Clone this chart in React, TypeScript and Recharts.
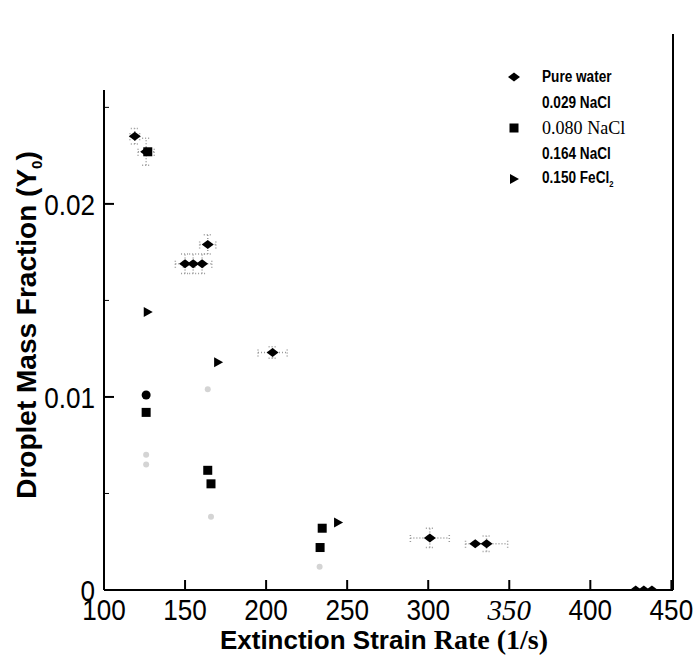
import React from 'react';
import { ScatterChart, Scatter, XAxis, YAxis, ErrorBar, ReferenceLine } from 'recharts';

const xTicks = [100, 150, 200, 250, 300, 350, 400, 450];
const yTicks = [0, 0.005, 0.01, 0.015, 0.02, 0.025];
const yMajor = [0, 0.01, 0.02];
const yTickLabels = ['0', '0.01', '0.02'];

const seriesNames = ['Pure water', '0.029 NaCl', '0.080 NaCl', '0.164 NaCl', '0.150 FeCl'];

// pure water (diamonds), with the dotted uncertainty boxes
const pureWaterX = [119, 126, 150, 155, 160.5, 164, 204, 301, 329, 336, 428, 433, 438];
const pureWaterY = [0.0235, 0.0227, 0.0169, 0.0169, 0.0169, 0.0179, 0.0123, 0.0027, 0.0024, 0.0024, 0, 0, 0];
const pureWaterErrX = [3, 5, 6, 6, 6, 5, 9, 12, 0, 13, 0, 0, 0];
const pureWaterErrY = [0.0004, 0.0007, 0.0005, 0.0005, 0.0005, 0.0005, 0.0003, 0.0005, 0, 0.0004, 0, 0, 0];

const naCl029X = [126];
const naCl029Y = [0.0101];

const naCl080X = [127, 126, 164, 166, 234.6, 233.3];
const naCl080Y = [0.0227, 0.0092, 0.0062, 0.0055, 0.0032, 0.0022];

const naCl164X = [126, 126, 164, 166, 233];
const naCl164Y = [0.007, 0.0065, 0.0104, 0.0038, 0.0012];

const feCl2X = [127, 170.4, 244.4];
const feCl2Y = [0.0144, 0.0118, 0.0035];

const zip = (xs: number[], ys: number[], ex?: number[], ey?: number[]) =>
  xs.map((x, i) => ({ x, y: ys[i], ex: ex ? ex[i] : 0, ey: ey ? ey[i] : 0 }));

const pureWater = zip(pureWaterX, pureWaterY, pureWaterErrX, pureWaterErrY);
const naCl029 = zip(naCl029X, naCl029Y);
const naCl080 = zip(naCl080X, naCl080Y);
const naCl164 = zip(naCl164X, naCl164Y);
const feCl2 = zip(feCl2X, feCl2Y);

const sansFont = '"Liberation Sans", Arial, sans-serif';
const serifFont = '"Liberation Serif", serif';

const Diamond = (props: any) => {
  const { cx, cy } = props;
  return <polygon points={`${cx - 6},${cy} ${cx},${cy - 4.5} ${cx + 6},${cy} ${cx},${cy + 4.5}`} fill="#000" />;
};
const Dot = (props: any) => <circle cx={props.cx} cy={props.cy} r={4.5} fill="#000" />;
const Square = (props: any) => (
  <rect x={props.cx - 4.5} y={props.cy - 4.5} width={9} height={9} fill="#000" />
);
const FaintDot = (props: any) => <circle cx={props.cx} cy={props.cy} r={3} fill="#d4d4d4" />;
const Triangle = (props: any) => {
  const { cx, cy } = props;
  return <polygon points={`${cx - 4},${cy - 5} ${cx + 5},${cy} ${cx - 4},${cy + 5}`} fill="#000" />;
};

// narrow-looking tick text: squeeze the sans font horizontally
const NarrowText = ({ x, y, anchor, children }: any) => (
  <text
    transform={`translate(${x},${y}) scale(0.87,1)`}
    textAnchor={anchor}
    fontSize={30}
    fontFamily={sansFont}
    fill="#000"
  >
    {children}
  </text>
);

const XTick = (props: any) => {
  const { x, y, payload } = props;
  const italic = payload.value === 350;
  return (
    <g>
      <line x1={x} y1={y} x2={x} y2={y - 10} stroke="#000" strokeWidth={2} />
      {italic ? (
        <text x={x} y={y + 30} textAnchor="middle" fontSize={29} fontFamily={serifFont} fontStyle="italic" fill="#000">
          {payload.value}
        </text>
      ) : (
        <NarrowText x={x} y={y + 30} anchor="middle">
          {payload.value}
        </NarrowText>
      )}
    </g>
  );
};

const YTick = (props: any) => {
  const { x, y, payload } = props;
  const idx = yMajor.indexOf(payload.value);
  return (
    <g>
      <line x1={x} y1={y} x2={x + (idx >= 0 ? 10 : 5)} y2={y} stroke="#000" strokeWidth={idx >= 0 ? 2 : 1} />
      {idx >= 0 && (
        <NarrowText x={x - 9} y={y + 11} anchor="end">
          {yTickLabels[idx]}
        </NarrowText>
      )}
    </g>
  );
};

const narrow: React.CSSProperties = {
  display: 'inline-block',
  transform: 'scaleX(0.85)',
  transformOrigin: 'left center',
  whiteSpace: 'nowrap',
};

const legendRow = (marker: React.ReactNode, label: React.ReactNode, top: number) => (
  <div key={top} style={{ position: 'absolute', left: 0, top, height: 26, display: 'flex', alignItems: 'center' }}>
    <svg width={20} height={14} style={{ marginRight: 17 }}>
      {marker}
    </svg>
    {label}
  </div>
);

const LegendBox = () => {
  const sans: React.CSSProperties = { ...narrow, fontFamily: sansFont, fontSize: 16, fontWeight: 'bold' };
  const serif: React.CSSProperties = { ...narrow, transform: 'scaleX(0.95)', fontFamily: serifFont, fontSize: 19 };
  return (
    <div style={{ position: 'absolute', left: 505, top: 64, width: 175, height: 135 }}>
      {legendRow(<polygon points="3,7 9,2.5 15,7 9,11.5" fill="#000" />, <span style={sans}>{seriesNames[0]}</span>, 0)}
      {legendRow(null, <span style={sans}>{seriesNames[1]}</span>, 25.5)}
      {legendRow(<rect x={4.5} y={2.5} width={9} height={9} fill="#000" />, <span style={serif}>{seriesNames[2]}</span>, 51)}
      {legendRow(null, <span style={sans}>{seriesNames[3]}</span>, 76.5)}
      {legendRow(
        <polygon points="5,2 14,7 5,12" fill="#000" />,
        <span style={sans}>
          {seriesNames[4]}
          <sub style={{ fontSize: 9 }}>2</sub>
        </span>,
        102
      )}
    </div>
  );
};

export default function App() {
  return (
    <div style={{ position: 'absolute', left: 0, top: 0, width: 698, height: 655, background: '#fff' }}>
      <ScatterChart width={698} height={655} margin={{ top: 90, right: 25, bottom: 0, left: 0 }}>
        <XAxis
          type="number"
          dataKey="x"
          domain={[100, 451]}
          ticks={xTicks}
          interval={0}
          allowDataOverflow
          tickSize={0}
          tickMargin={0}
          tickLine={false}
          tick={<XTick />}
          axisLine={{ stroke: '#000', strokeWidth: 2 }}
          height={65}
          label={{
            content: () => (
              <text x={384} y={649} textAnchor="middle" fontSize={26} fontWeight="bold" fill="#000">
                <tspan fontFamily={sansFont}>Extinction Strain </tspan>
                <tspan fontFamily={serifFont} fontSize={28}>Rate (1/s)</tspan>
              </text>
            ),
          }}
        />
        <YAxis
          type="number"
          dataKey="y"
          domain={[0, 0.0259]}
          ticks={yTicks}
          interval={0}
          allowDataOverflow
          tickSize={0}
          tickMargin={0}
          tickLine={false}
          tick={<YTick />}
          axisLine={{ stroke: '#000', strokeWidth: 2 }}
          width={104}
          label={{
            content: () => (
              <text
                transform="translate(36, 325) rotate(-90)"
                textAnchor="middle"
                fontSize={28}
                fontWeight="bold"
                fontFamily={sansFont}
                fill="#000"
              >
                Droplet Mass Fraction (Y
                <tspan fontSize={15} dy={6}>0</tspan>
                <tspan dy={-6}>)</tspan>
              </text>
            ),
          }}
        />
        <ReferenceLine
          segment={[
            { x: 451, y: 0 },
            { x: 451, y: 0.0288 },
          ]}
          ifOverflow="visible"
          stroke="#000"
          strokeWidth={2}
        />
        <Scatter name={seriesNames[3]} data={naCl164} shape={<FaintDot />} isAnimationActive={false} />
        <Scatter name={seriesNames[0]} data={pureWater} shape={<Diamond />} isAnimationActive={false}>
          <ErrorBar dataKey="ex" direction="x" width={4} stroke="#9a9a9a" strokeDasharray="1 2" />
          <ErrorBar dataKey="ey" direction="y" width={4} stroke="#9a9a9a" strokeDasharray="1 2" />
        </Scatter>
        <Scatter name={seriesNames[1]} data={naCl029} shape={<Dot />} isAnimationActive={false} />
        <Scatter name={seriesNames[2]} data={naCl080} shape={<Square />} isAnimationActive={false} />
        <Scatter name={seriesNames[4]} data={feCl2} shape={<Triangle />} isAnimationActive={false} />
      </ScatterChart>
      <LegendBox />
    </div>
  );
}
